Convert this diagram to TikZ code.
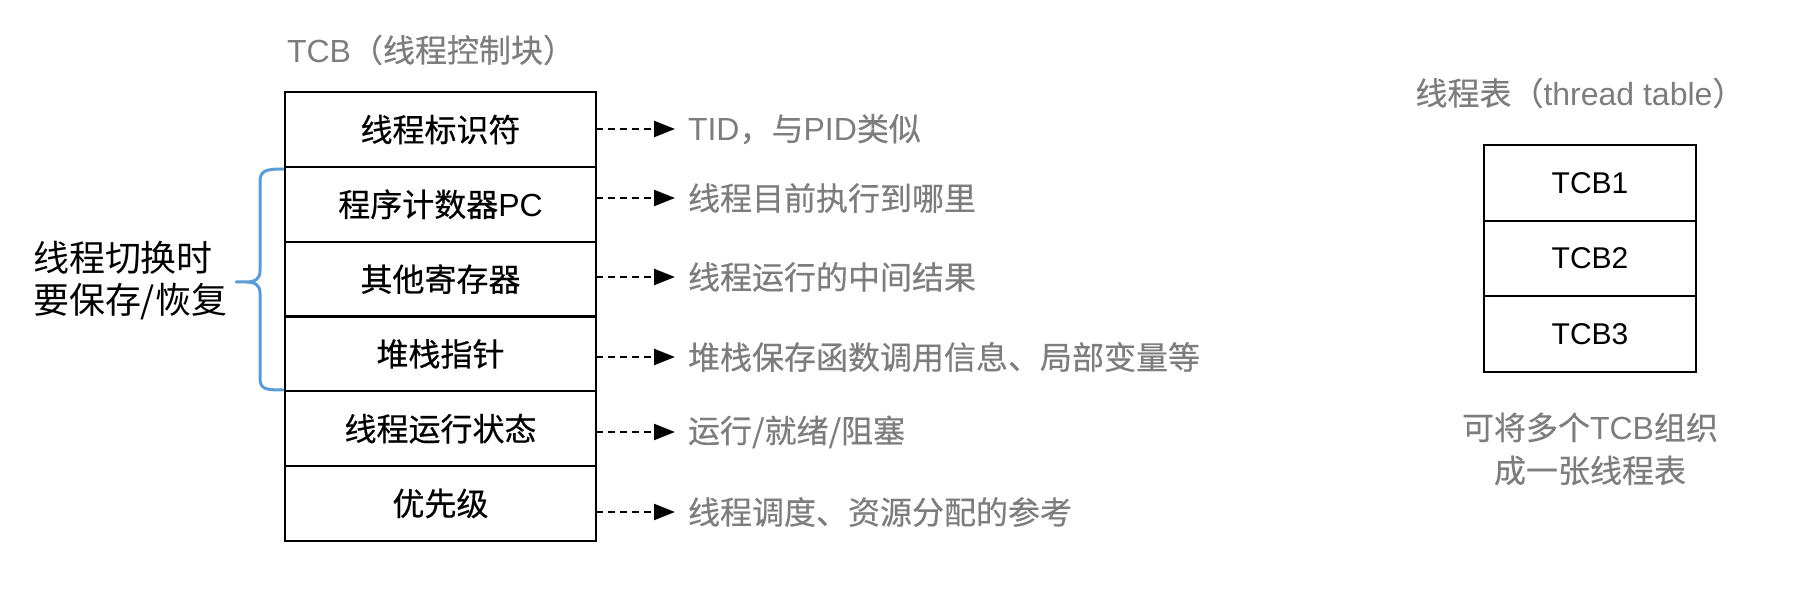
\documentclass[tikz,border=0pt]{standalone}
\usepackage{fontspec}
\setmainfont{Liberation Sans}
\newfontfamily\cjk[FakeBold=0.4]{Noto Sans CJK SC}
\newfontfamily\cjkthin{Noto Sans CJK SC}
\newfontfamily\lat{Liberation Sans}
\usetikzlibrary{arrows.meta}
\definecolor{txtgray}{RGB}{125,125,125}
\definecolor{braceblue}{RGB}{91,155,213}
\begin{document}
\begin{tikzpicture}[x=1pt,y=-1pt,
  every node/.style={inner sep=0pt, outer sep=0pt},
  rowbox/.style={draw=black, line width=2.2pt, minimum width=311pt, minimum height=74.8pt, font=\cjk\fontsize{32}{38}\selectfont},
  tbox/.style={draw=black, line width=2pt, minimum width=212pt, minimum height=75.7pt, font=\lat\fontsize{30}{36}\selectfont},
  desc/.style={anchor=west, text=txtgray, font=\cjk\fontsize{32}{38}\selectfont},
  gtitle/.style={text=txtgray, font=\cjk\fontsize{32}{38}\selectfont},
  darrow/.style={draw=black, line width=2.4pt, dash pattern=on 7pt off 5pt, -{Triangle[length=21pt,width=16pt]}, shorten >=13pt},
  bracestyle/.style={draw=braceblue, line width=3pt, line cap=round, line join=round}
]
\useasboundingbox (0,0) rectangle (1808,593);

% TCB title
\node[gtitle] (tcbt) at (431,50) {{\lat TCB}（线程控制块）};

% TCB rows
\node[rowbox] (r1) at (440.5,129.5) {线程标识符};
\node[rowbox] (r2) at (440.5,204.3) {程序计数器{\lat PC}};
\node[rowbox] (r3) at (440.5,279.1) {其他寄存器};
\node[rowbox] (r4) at (440.5,353.9) {堆栈指针};
\node[rowbox] (r5) at (440.5,428.7) {线程运行状态};
\node[rowbox] (r6) at (440.5,503.5) {优先级};

% descriptions
\node[desc] (d1) at (688,129) {{\lat TID}，与{\lat PID}类似};
\node[desc] (d2) at (688,198) {线程目前执行到哪里};
\node[desc] (d3) at (688,277) {线程运行的中间结果};
\node[desc] (d4) at (688,357) {堆栈保存函数调用信息、局部变量等};
\node[desc] (d5) at (688,432) {运行/就绪/阻塞};
\node[desc] (d6) at (688,512) {线程调度、资源分配的参考};

\foreach \i in {1,...,6}{
  \draw[darrow] (r\i.east |- d\i.west) -- (d\i.west);
}

% left label and brace
\node[anchor=west, align=left, font=\cjkthin\fontsize{36}{42}\selectfont] (sw) at (33,281) {线程切换时\\要保存/恢复};
\draw[bracestyle] (283,169) .. controls (265,169) and (260,171) .. (260,182)
  -- (260,271) .. controls (260,279) and (255,282) .. (246,282) -- (236,282)
  -- (246,282) .. controls (255,282) and (260,285) .. (260,293)
  -- (260,378) .. controls (260,389) and (265,390) .. (283,390);

% thread table
\node[gtitle] (ttt) at (1580,93) {线程表（{\lat thread table}）};
\node[tbox] (t1) at (1590,182.8) {TCB1};
\node[tbox] (t2) at (1590,258.5) {TCB2};
\node[tbox] (t3) at (1590,334.2) {TCB3};
\node[align=center, text=txtgray, font=\cjk\fontsize{32}{43}\selectfont] (tnote) at (1590,449) {可将多个{\lat TCB}组织\\成一张线程表};
\end{tikzpicture}
\end{document}
